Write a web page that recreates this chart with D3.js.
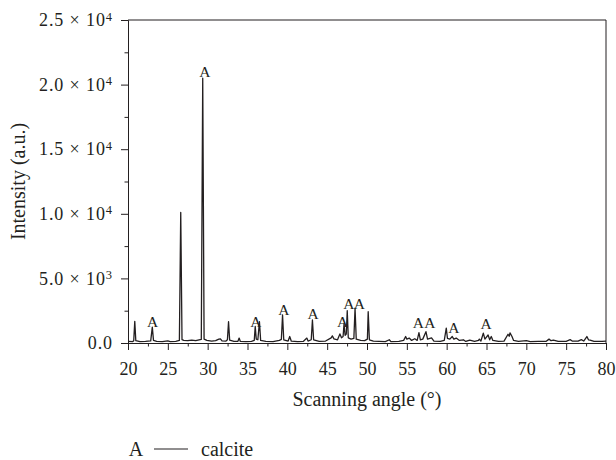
<!DOCTYPE html>
<html>
<head>
<meta charset="utf-8">
<script src="https://cdn.jsdelivr.net/npm/d3@7"></script>
<style>
  body { margin: 0; background: #fff; }
</style>
</head>
<body>
<svg id="chart" width="616" height="460"></svg>
<script>
// XRD pattern: angle (deg) and intensity (a.u.)
const angles = [
  20.0, 20.6, 20.72, 20.85, 20.98, 21.5, 22.2, 22.85, 23.05, 23.2, 23.6, 24.3, 25.0, 25.3, 26.0,
  26.45, 26.62, 26.78, 27.0, 27.5, 28.0, 28.5, 29.2, 29.38, 29.55, 29.9, 30.5, 31.0, 31.4, 31.6,
  31.8, 32.3, 32.48, 32.62, 32.76, 33.3, 33.8, 33.95, 34.1, 34.8, 35.5, 35.85, 35.97, 36.1, 36.3,
  36.5, 36.65, 37.3, 38.2, 39.0, 39.25, 39.4, 39.55, 40.1, 40.3, 40.5, 41.3, 42.0, 42.45, 42.6,
  43.0, 43.15, 43.3, 44.0, 44.8, 45.5, 45.65, 45.85, 46.3, 46.6, 46.8, 47.0, 47.12, 47.25, 47.4,
  47.52, 47.65, 48.0, 48.35, 48.5, 48.65, 49.2, 49.7, 50.05, 50.15, 50.3, 50.8, 51.5, 52.3, 52.8,
  53.0, 54.0, 54.6, 54.85, 55.0, 55.3, 55.6, 56.0, 56.3, 56.52, 56.7, 57.0, 57.4, 57.6, 58.1,
  58.4, 59.2, 59.7, 59.95, 60.1, 60.4, 60.7, 60.9, 61.2, 61.6, 62.1, 62.4, 62.9, 63.5, 64.0,
  64.1, 64.3, 64.6, 64.8, 65.2, 65.4, 65.6, 65.8, 66.5, 67.2, 67.7, 67.85, 67.95, 68.2, 68.4,
  69.0, 70.0, 70.5, 71.5, 72.5, 72.85, 73.1, 73.4, 74.0, 75.0, 75.5, 75.8, 76.5, 76.9, 77.2,
  77.6, 77.8, 78.0, 78.5, 79.5, 80.0
];
const counts = [
  120, 110, 180, 1680, 180, 110, 130, 160, 1230, 200, 120, 100, 160, 110, 120,
  200, 10100, 260, 200, 180, 230, 180, 280, 20500, 300, 200, 150, 180, 300, 320,
  160, 150, 250, 1650, 220, 120, 130, 380, 120, 110, 130, 200, 1280, 300, 250,
  1650, 200, 120, 110, 200, 280, 2170, 250, 150, 500, 140, 110, 120, 380, 150,
  250, 1780, 250, 120, 150, 400, 550, 320, 250, 700, 400, 500, 1500, 600, 700,
  2500, 400, 300, 350, 2690, 300, 200, 180, 300, 2420, 250, 150, 130, 110, 250,
  110, 120, 200, 500, 300, 380, 200, 330, 200, 800, 250, 300, 880, 300, 400,
  150, 120, 200, 1150, 350, 300, 500, 300, 380, 200, 250, 120, 230, 130, 200,
  300, 150, 760, 300, 620, 250, 500, 200, 130, 150, 680, 520, 780, 500, 200,
  130, 180, 110, 120, 130, 300, 180, 230, 120, 130, 260, 140, 150, 260, 150,
  500, 250, 230, 120, 130, 140
];

// calcite markers: where each "A" sits (angle, intensity at letter baseline)
const markAngles = [23.1, 29.65, 36.05, 39.55, 43.25, 46.95, 47.72, 49.05, 56.45, 57.9, 60.9, 64.95];
const markHeights = [1260, 20600, 1260, 2170, 1860, 1260, 2630, 2630, 1140, 1140, 750, 1080];

const xTicks = [20, 25, 30, 35, 40, 45, 50, 55, 60, 65, 70, 75, 80];
const xMinor = [22.5, 27.5, 32.5, 37.5, 42.5, 47.5, 52.5, 57.5, 62.5, 67.5, 72.5, 77.5];
const yTicks = [0, 5000, 10000, 15000, 20000, 25000];
const yTickText = [["0.0", ""], ["5.0 × 10", "3"], ["1.0 × 10", "4"], ["1.5 × 10", "4"], ["2.0 × 10", "4"], ["2.5 × 10", "4"]];
const yMinor = [2500, 7500, 12500, 17500, 22500];

const svg = d3.select("#chart");
const plotLeft = 128, plotRight = 606, plotTop = 20, plotBottom = 343;
const ink = "#231f20";

const x = d3.scaleLinear().domain([20, 80]).range([plotLeft, plotRight]);
const y = d3.scaleLinear().domain([0, 25000]).range([plotBottom, plotTop]);

// frame
svg.append("line").attr("x1", plotLeft).attr("x2", plotRight).attr("y1", plotTop).attr("y2", plotTop)
  .attr("stroke", ink);
svg.append("line").attr("x1", plotRight).attr("x2", plotRight).attr("y1", plotTop).attr("y2", plotBottom)
  .attr("stroke", ink);

// x axis
const xg = svg.append("g").attr("transform", `translate(0,${plotBottom})`)
  .call(d3.axisBottom(x).tickValues(xTicks).tickSize(7).tickSizeOuter(0).tickPadding(12));
svg.append("g").attr("transform", `translate(0,${plotBottom})`)
  .call(d3.axisBottom(x).tickValues(xMinor).tickSize(3.5).tickSizeOuter(0).tickFormat(""));

// y axis
const yg = svg.append("g").attr("transform", `translate(${plotLeft},0)`)
  .call(d3.axisLeft(y).tickValues(yTicks).tickSize(7).tickSizeOuter(0).tickPadding(8));
svg.append("g").attr("transform", `translate(${plotLeft},0)`)
  .call(d3.axisLeft(y).tickValues(yMinor).tickSize(3.5).tickSizeOuter(0).tickFormat(""));

svg.selectAll(".domain, .tick line").attr("stroke", ink);
xg.selectAll("text").attr("font-size", 18);

yg.selectAll("text").each(function(d, i) {
  const t = d3.select(this).text("").attr("font-size", 18).attr("letter-spacing", 0.9);
  t.append("tspan").text(yTickText[i][0]);
  if (yTickText[i][1]) {
    t.append("tspan").attr("dy", "-0.45em").attr("font-size", 12.5).text(yTickText[i][1]);
  }
});

// pattern
const line = d3.line().x((d, i) => x(angles[i])).y(d => y(d));
svg.append("path").datum(counts)
  .attr("d", line)
  .attr("fill", "none")
  .attr("stroke", ink)
  .attr("stroke-width", 1.3)
  .attr("stroke-linejoin", "round");

// calcite marks
svg.selectAll(".mark").data(markAngles).enter().append("text")
  .attr("class", "mark")
  .attr("x", d => x(d))
  .attr("y", (d, i) => y(markHeights[i]))
  .attr("text-anchor", "middle")
  .attr("font-size", 15.5)
  .text("A");

// titles
svg.append("text").attr("x", (plotLeft + plotRight) / 2).attr("y", 406)
  .attr("text-anchor", "middle").attr("font-size", 20)
  .text("Scanning angle (°)");
svg.append("text").attr("transform", `translate(25,${(plotTop + plotBottom) / 2}) rotate(-90)`)
  .attr("text-anchor", "middle").attr("font-size", 20)
  .text("Intensity (a.u.)");

// legend
const lg = svg.append("g");
lg.append("text").attr("x", 136).attr("y", 456).attr("text-anchor", "middle")
  .attr("font-size", 20).text("A");
lg.append("line").attr("x1", 154).attr("x2", 188).attr("y1", 449).attr("y2", 449)
  .attr("stroke", ink).attr("stroke-width", 1.2);
lg.append("text").attr("x", 201).attr("y", 456).attr("font-size", 20).text("calcite");

svg.selectAll("text")
  .style("font-family", '"Liberation Serif"')
  .style("fill", ink);
</script>
</body>
</html>
